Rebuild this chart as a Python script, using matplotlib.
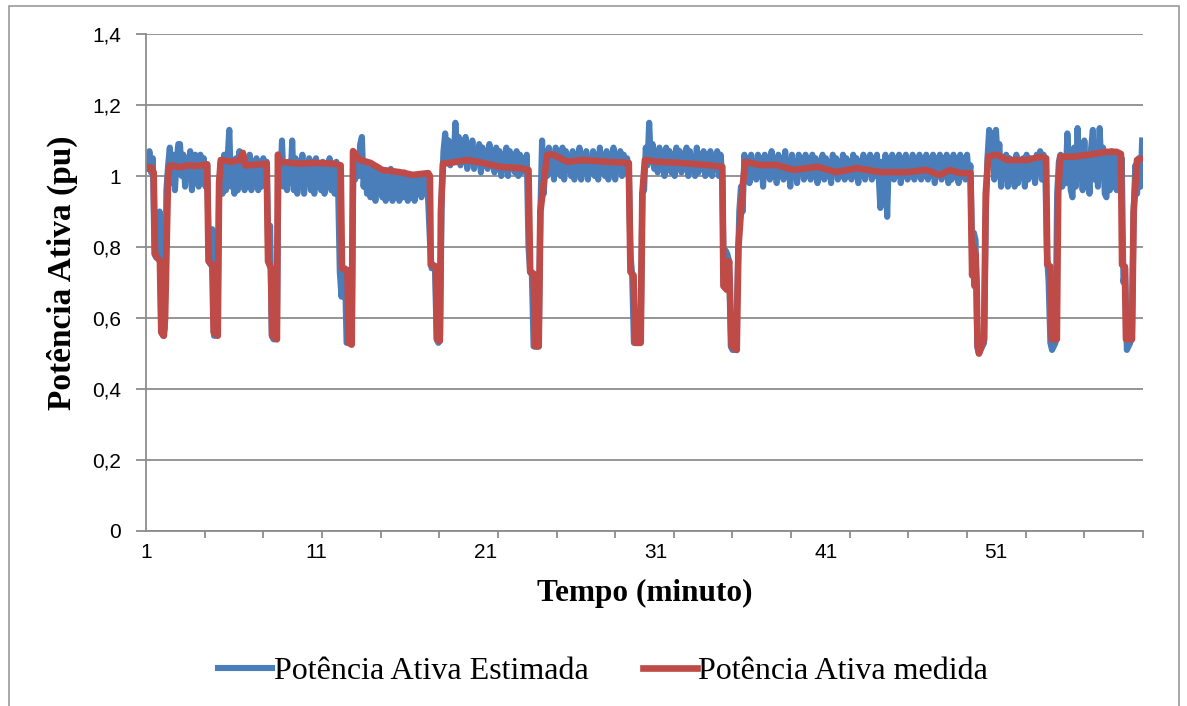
import numpy as np
import matplotlib.pyplot as plt
from matplotlib.patches import Rectangle

# estimated active power, one sample every 0.1 min from minute 1.0 (rows = one minute)
p_est = [
    1.06, 1.02, 1.07, 1.01, 1.05, 0.78, 0.77, 0.77, 0.90, 0.56,
    0.55, 0.57, 0.96, 1.03, 1.08, 0.98, 1.06, 0.96, 1.04, 1.09,
    1.09, 1.00, 1.06, 0.97, 1.05, 1.00, 1.07, 0.96, 1.03, 1.06,
    1.04, 0.97, 1.06, 1.00, 1.05, 0.97, 1.03, 0.76, 0.75, 0.85,
    0.55, 0.55, 0.56, 0.96, 1.04, 0.95, 1.06, 0.96, 1.05, 1.13,
    0.97, 1.04, 0.95, 1.05, 0.96, 1.07, 0.98, 1.04, 0.96, 1.05,
    0.97, 1.06, 0.96, 1.04, 0.99, 1.05, 0.96, 1.03, 0.97, 1.05,
    1.02, 1.04, 0.76, 0.86, 0.55, 0.54, 0.54, 0.56, 1.05, 0.98,
    1.10, 0.97, 1.03, 0.96, 1.04, 0.98, 1.10, 0.96, 1.05, 0.95,
    1.04, 0.97, 1.06, 0.95, 1.03, 0.98, 1.05, 0.96, 1.04, 0.95,
    1.05, 0.97, 1.03, 0.96, 1.04, 0.95, 1.03, 0.98, 1.05, 0.96,
    1.03, 0.95, 1.04, 0.97, 0.73, 0.66, 0.74, 0.74, 0.53, 0.53,
    0.53, 0.53, 1.05, 0.99, 1.06, 1.00, 1.09, 1.11, 0.97, 1.03,
    0.95, 1.02, 0.94, 1.03, 0.96, 0.93, 1.02, 0.95, 1.00, 0.94,
    1.01, 0.93, 0.99, 0.95, 1.02, 0.93, 0.98, 0.95, 1.01, 0.93,
    0.99, 0.94, 1.01, 0.95, 0.93, 1.00, 0.94, 0.98, 0.93, 1.00,
    0.95, 0.99, 0.94, 1.00, 0.96, 0.99, 0.93, 0.82, 0.74, 0.75,
    0.74, 0.54, 0.53, 0.55, 0.95, 1.07, 1.12, 1.05, 1.10, 1.03,
    1.09, 1.04, 1.15, 1.06, 1.11, 1.03, 1.09, 1.05, 1.11, 1.02,
    1.08, 1.04, 1.10, 1.02, 1.07, 1.05, 1.09, 1.01, 1.08, 1.03,
    1.07, 1.02, 1.09, 1.04, 1.06, 1.01, 1.08, 1.03, 1.07, 1.00,
    1.06, 1.02, 1.08, 1.00, 1.07, 1.03, 1.05, 1.01, 1.07, 1.00,
    1.06, 1.01, 1.05, 1.02, 1.06, 0.80, 0.73, 0.72, 0.52, 0.52,
    0.52, 0.52, 0.90, 1.10, 0.95, 1.07, 1.00, 1.08, 1.01, 1.06,
    0.99, 1.08, 1.01, 1.06, 1.00, 1.08, 0.99, 1.07, 1.02, 1.05,
    1.00, 1.07, 0.99, 1.06, 1.02, 1.08, 0.99, 1.05, 1.01, 1.07,
    0.99, 1.05, 1.02, 1.07, 1.00, 1.06, 0.99, 1.08, 1.01, 1.05,
    1.00, 1.07, 0.99, 1.06, 1.01, 1.08, 0.99, 1.05, 1.02, 1.07,
    1.00, 1.06, 1.01, 1.05, 1.02, 0.78, 0.72, 0.53, 0.53, 0.53,
    0.53, 0.55, 0.95, 0.96, 1.08, 1.03, 1.15, 1.04, 1.09, 1.02,
    1.07, 1.01, 1.08, 1.03, 1.06, 1.00, 1.08, 1.02, 1.07, 1.01,
    1.06, 1.00, 1.08, 1.02, 1.07, 1.01, 1.06, 1.03, 1.08, 1.00,
    1.07, 1.02, 1.05, 1.00, 1.08, 1.01, 1.06, 1.02, 1.07, 1.00,
    1.06, 1.01, 1.07, 1.00, 1.05, 1.02, 1.07, 1.00, 1.06, 1.00,
    0.69, 0.79, 0.78, 0.76, 0.52, 0.51, 0.51, 0.51, 0.70, 0.90,
    0.97, 0.90, 1.06, 1.00, 1.05, 0.98, 1.06, 1.01, 1.04, 0.99,
    1.06, 1.00, 1.05, 0.97, 1.06, 1.01, 1.05, 0.99, 1.07, 1.00,
    1.04, 0.98, 1.06, 1.00, 1.05, 0.99, 1.07, 1.01, 1.04, 0.97,
    1.06, 1.00, 1.04, 0.98, 1.06, 1.01, 1.05, 0.99, 1.06, 1.00,
    1.04, 0.99, 1.06, 1.00, 1.05, 0.98, 1.04, 1.01, 1.06, 0.99,
    1.05, 1.00, 1.04, 0.98, 1.06, 1.01, 1.05, 0.99, 1.04, 1.00,
    1.06, 0.99, 1.05, 1.01, 1.04, 0.99, 1.06, 1.00, 1.05, 0.98,
    1.04, 1.00, 1.06, 0.99, 1.05, 1.01, 1.06, 0.99, 1.05, 1.00,
    1.06, 1.00, 0.91, 1.04, 1.00, 1.06, 0.885, 1.05, 1.00, 1.06,
    0.99, 1.05, 1.00, 1.06, 0.98, 1.05, 1.01, 1.06, 0.99, 1.04,
    1.00, 1.06, 0.99, 1.05, 1.01, 1.06, 0.99, 1.04, 1.00, 1.06,
    0.99, 1.05, 1.00, 1.06, 0.98, 1.05, 1.01, 1.06, 0.99, 1.05,
    1.00, 1.06, 0.98, 1.05, 0.99, 1.06, 1.00, 1.04, 0.98, 1.06,
    1.00, 1.05, 0.99, 1.06, 1.00, 1.03, 0.78, 0.84, 0.82, 0.52,
    0.50, 0.51, 0.52, 0.53, 0.89, 1.05, 1.13, 1.06, 1.12, 0.99,
    1.13, 1.05, 1.09, 0.97, 1.04, 1.00, 1.06, 0.97, 1.05, 1.00,
    1.04, 0.97, 1.06, 0.98, 1.04, 1.00, 1.05, 0.97, 1.06, 0.99,
    1.05, 1.00, 1.04, 0.98, 1.06, 1.01, 1.07, 0.99, 1.06, 1.02,
    0.78, 0.70, 0.53, 0.51, 0.52, 0.53, 0.95, 1.04, 1.06, 0.97,
    1.05, 0.98, 1.12, 1.03, 0.96, 0.94, 1.08, 0.97, 1.135, 1.00,
    1.06, 0.96, 1.10, 0.98, 1.05, 0.95, 1.08, 1.13, 0.99, 1.06,
    0.97, 1.135, 1.02, 1.08, 0.95, 0.94, 1.06, 0.96, 1.07, 0.97,
    1.06, 0.96, 1.04, 0.98, 1.05, 0.70, 0.74, 0.51, 0.52, 0.53,
    0.55, 0.90, 1.03, 0.95, 1.05, 0.97, 1.10,
]
t_est = 1.0 + 0.1 * np.arange(len(p_est))

# measured active power (minute, pu)
t_med = [1.00, 1.30, 1.45, 1.53, 1.82, 1.90, 2.05, 2.12, 2.30, 2.41, 3.0, 3.5, 4.0, 4.60,
         4.68, 4.90, 4.98, 5.22, 5.30, 5.40, 6.0, 6.5, 6.7, 6.85, 7.5, 8.10,
         8.18, 8.35, 8.42, 8.70, 8.76, 8.9, 10.0, 11.0, 12.0, 12.45,
         12.53, 12.85, 12.92, 13.10, 13.18, 13.6, 14.2, 14.9, 15.9, 16.7, 17.6, 17.7,
         17.75, 18.05, 18.12, 18.28, 18.35, 18.47, 18.9, 19.9, 20.8, 21.8, 23.0, 23.5,
         23.6, 23.8, 23.9, 24.1, 24.2, 24.6, 24.95, 25.8, 26.7, 28.1, 29.4,
         29.5, 29.68, 29.78, 30.1, 30.2, 30.35, 31.1, 32.4, 34.0, 34.9,
         34.97, 35.15, 35.3, 35.45, 35.75, 35.85, 36.1, 36.25, 37.1, 38.1, 39.1, 40.5,
         41.6, 42.8, 44.2, 45.8, 46.9, 47.7, 48.3, 48.9, 49.5,
         49.6, 49.68, 49.74, 49.8, 49.86, 49.92, 50.0, 50.2, 50.3, 50.4, 50.55, 51.06,
         51.65, 52.8, 53.6, 53.95,
         54.02, 54.2, 54.28, 54.58, 54.66, 54.78, 55.5, 56.5, 57.5, 58.1, 58.35,
         58.42, 58.58, 58.65, 59.0, 59.1, 59.3, 59.65]
p_med = [1.02, 1.025, 1.01, 0.78, 0.76, 0.56, 0.55, 0.60, 1.00, 1.03, 1.025, 1.03, 1.028, 1.033,
         0.76, 0.75, 0.56, 0.55, 0.98, 1.045, 1.04, 1.045, 1.065, 1.03, 1.032, 1.035,
         0.76, 0.74, 0.55, 0.54, 1.06, 1.04, 1.035, 1.037, 1.035, 1.03,
         0.74, 0.735, 0.53, 0.525, 1.07, 1.045, 1.037, 1.017, 1.011, 1.003, 1.008, 1.0,
         0.75, 0.745, 0.54, 0.535, 0.90, 1.035, 1.037, 1.045, 1.037, 1.026, 1.022, 1.017,
         0.73, 0.725, 0.52, 0.52, 0.90, 1.06, 1.06, 1.04, 1.045, 1.04, 1.037,
         0.73, 0.72, 0.53, 0.53, 0.95, 1.045, 1.04, 1.037, 1.031, 1.026,
         0.69, 0.68, 0.76, 0.52, 0.51, 0.80, 0.97, 1.04, 1.031, 1.031, 1.017, 1.026,
         1.011, 1.022, 1.011, 1.011, 1.017, 1.003, 1.017, 1.008, 1.008,
         0.72, 0.80, 0.69, 0.78, 0.70, 0.52, 0.50, 0.53, 0.54, 0.95, 1.055, 1.06,
         1.045, 1.045, 1.054, 1.05,
         0.75, 0.745, 0.54, 0.54, 0.95, 1.055, 1.054, 1.06, 1.068, 1.068, 1.062,
         0.75, 0.745, 0.54, 0.54, 0.90, 1.045, 1.05]

y_ticks = [0, 0.2, 0.4, 0.6, 0.8, 1.0, 1.2, 1.4]
y_labels = ['0', '0,2', '0,4', '0,6', '0,8', '1', '1,2', '1,4']
x_ticks = [1, 11, 21, 31, 41, 51]

BLUE = '#4A7EBB'
RED = '#BE4B48'
GRID = '#8C8C8C'

fig = plt.figure(figsize=(11.87, 7.06), dpi=100)
ax = fig.add_axes([146 / 1187, 1 - 531 / 706, (1143 - 146) / 1187, (531 - 34) / 706])

ax.plot(t_est, p_est, color=BLUE, lw=4.4, solid_joinstyle='round',
        label='Potência Ativa Estimada')
ax.plot(t_med, p_med, color=RED, lw=4.8, solid_joinstyle='round',
        label='Potência Ativa medida')

ax.set_xlim(1, 59.65)
ax.set_ylim(0, 1.4)
ax.set_yticks(y_ticks)
ax.set_yticklabels(y_labels, fontfamily='Liberation Sans', fontsize=15)
ax.set_xticks(x_ticks)
ax.set_xticklabels([str(v) for v in x_ticks], fontfamily='Liberation Sans', fontsize=15)
ax.set_xticks(np.linspace(1, 59.65, 18), minor=True)
ax.tick_params(axis='x', which='major', length=0, pad=9)
ax.tick_params(axis='x', which='minor', length=5, width=1.3, color=GRID)
ax.tick_params(axis='y', length=7, width=1.3, color=GRID, pad=11)

ax.grid(axis='y', color=GRID, lw=1.3)
ax.set_axisbelow(True)
for side in ['top', 'right']:
    ax.spines[side].set_visible(False)
for side in ['left', 'bottom']:
    ax.spines[side].set_color(GRID)
    ax.spines[side].set_linewidth(1.3)

ax.set_ylabel('Potência Ativa (pu)', fontfamily='Liberation Serif', fontweight='bold',
              fontsize=24)
ax.yaxis.set_label_coords(-0.068, 0.52)
ax.set_xlabel('Tempo (minuto)', fontfamily='Liberation Serif', fontweight='bold',
              fontsize=22.5, labelpad=12)

fig.legend(loc='center', bbox_to_anchor=(603 / 1187, 1 - 671 / 706), ncol=2,
           frameon=False, prop={'family': 'Liberation Serif', 'size': 23},
           handlelength=1.7, handletextpad=0.05, columnspacing=1.7)

# chart area frame
fig.patches.append(Rectangle((9.5 / 1187, -0.02), (1179 - 9.5) / 1187, 1.02 - 5.5 / 706,
                             transform=fig.transFigure, fill=False,
                             edgecolor='#9A9A9A', lw=1.2))

fig.savefig('out.png', dpi=100)
